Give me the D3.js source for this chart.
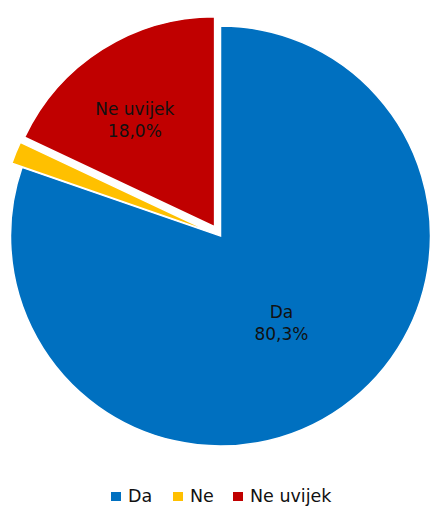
<!DOCTYPE html>
<html>
<head>
<meta charset="utf-8">
<script src="https://cdn.jsdelivr.net/npm/d3@7"></script>
<style>
  html, body { margin: 0; padding: 0; background: #fff; }
  svg { display: block; }
  text { font-family: "DejaVu Sans", sans-serif; fill: #111; }
</style>
</head>
<body>
<svg id="chart" width="430" height="507"></svg>
<script>
// ---- data ----
const categories = ["Da", "Ne", "Ne uvijek"];
const values = [80.3, 1.7, 18.0];
const valueLabels = ["80,3%", "1,7%", "18,0%"];
const colors = ["#0070C0", "#FFC000", "#C00000"];
const showLabel = [true, false, true];

// ---- layout ----
const W = 430, H = 507;
const cx = 220.5, cy = 236, R = 210;
const explode = [0, 11, 11];
const labelRadius = [0.5, 0.6, 0.64];
const labelAngleShift = [0, 0, -0.07];

const svg = d3.select("#chart");
const pie = d3.pie().sort(null).value(d => d.v);
const data = categories.map((c, i) => ({ c, v: values[i], i }));
const arcs = pie(data);
const arc = d3.arc().innerRadius(0).outerRadius(R);

const g = svg.append("g").attr("transform", `translate(${cx},${cy})`);

const slices = g.selectAll("g.slice").data(arcs).enter().append("g")
  .attr("class", "slice")
  .attr("transform", d => {
    const a = (d.startAngle + d.endAngle) / 2;
    const e = explode[d.data.i];
    return `translate(${e * Math.sin(a)},${-e * Math.cos(a)})`;
  });

slices.append("path")
  .attr("d", arc)
  .attr("fill", d => colors[d.data.i])
  .attr("stroke", "#fff")
  .attr("stroke-width", 1.5)
  .attr("stroke-linejoin", "miter");

slices.filter(d => showLabel[d.data.i]).each(function(d) {
  const i = d.data.i;
  const a = (d.startAngle + d.endAngle) / 2 + labelAngleShift[i];
  const r = R * labelRadius[i];
  const x = r * Math.sin(a), y = -r * Math.cos(a);
  const t = d3.select(this).append("text")
    .attr("text-anchor", "middle")
    .attr("font-size", 17);
  t.append("tspan").attr("x", x).attr("y", y - 4).text(d.data.c);
  t.append("tspan").attr("x", x).attr("y", y + 18).text(valueLabels[i]);
});

// ---- legend ----
const legendX = [111, 173, 233];
const legend = svg.append("g");
categories.forEach((c, i) => {
  const lg = legend.append("g").attr("transform", `translate(${legendX[i]},492)`);
  lg.append("rect").attr("width", 10).attr("height", 9).attr("fill", colors[i]);
  lg.append("text").attr("x", 17).attr("y", 10).attr("font-size", 17.5).text(c);
});
</script>
</body>
</html>
